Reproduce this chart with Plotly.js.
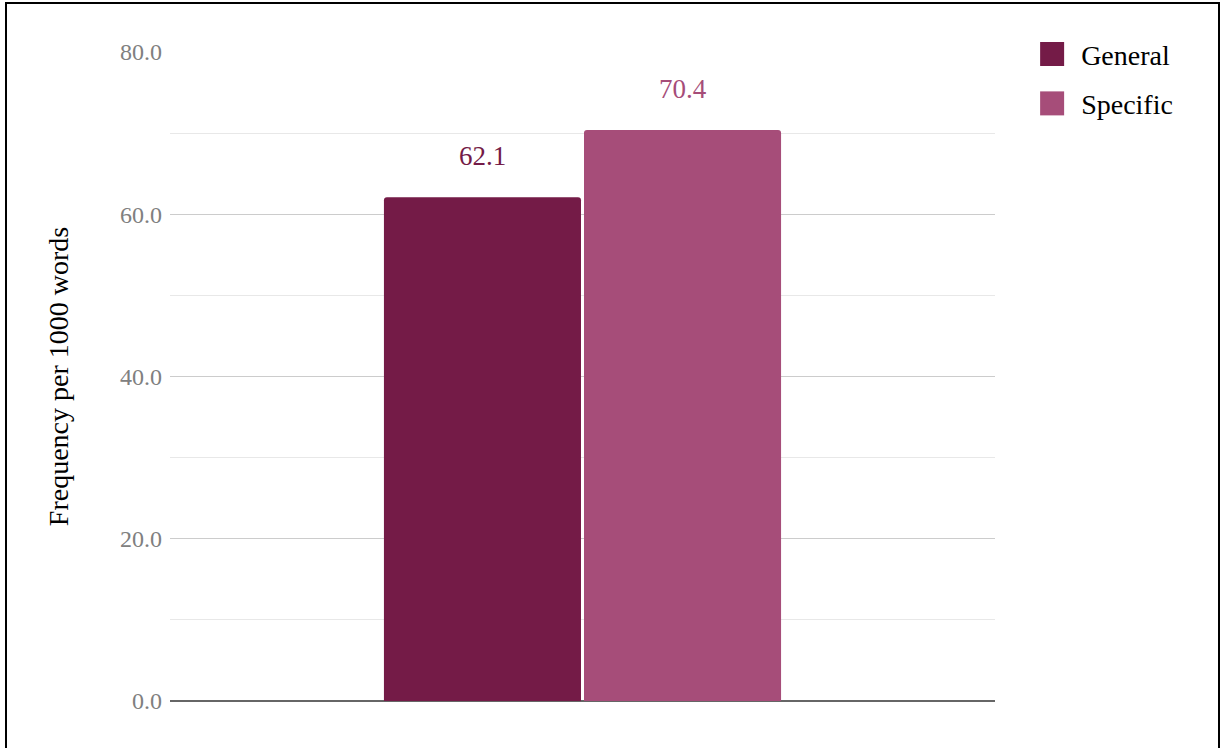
<!DOCTYPE html>
<html>
<head>
<meta charset="utf-8">
<script src="https://cdn.plot.ly/plotly-3.0.1.min.js"></script>
<style>
  html, body { margin: 0; padding: 0; background: #fff; overflow: hidden; }
  #chart { width: 1221px; height: 748px; }
  #frame { position: absolute; left: 5px; top: 2px; width: 1211px; height: 800px;
           border: 2px solid #000; border-bottom: none; pointer-events: none; }
</style>
</head>
<body>
<div id="chart"></div>
<div id="frame"></div>
<script>
// ---- data ----
const categories = ["Frequency"];
const seriesNames = ["General", "Specific"];
const generalValues = [62.1];
const specificValues = [70.4];
const yTickValues = [0, 20, 40, 60, 80];

const colors = ["#741B47", "#A64D79"];
const FONT = "'Liberation Serif', 'Times New Roman', serif";
const bargap = 0.515;
const allValues = [generalValues, specificValues];

const traces = allValues.map((vals, i) => ({
  type: "bar",
  name: seriesNames[i],
  x: categories,
  y: vals,
  legendgroup: "g" + i,
  marker: { color: colors[i], cornerradius: 3, line: { width: 0 } },
  hoverinfo: "none"
}));

// value labels above each bar
const nSeries = allValues.length;
const slot = (1 - bargap) / nSeries;
const annotations = [];
allValues.forEach((vals, i) => {
  vals.forEach((v, j) => {
    annotations.push({
      x: j - (1 - bargap) / 2 + slot * (i + 0.5),
      y: v,
      xref: "x", yref: "y",
      text: v.toFixed(1),
      showarrow: false,
      yanchor: "bottom",
      yshift: 24,
      font: { family: FONT, size: 27, color: colors[i] }
    });
  });
});

const layout = {
  width: 1221, height: 748,
  margin: { l: 170, r: 226, t: 52, b: 47 },
  paper_bgcolor: "#fff", plot_bgcolor: "#fff",
  barmode: "group",
  bargap: bargap,
  bargroupgap: 0.015,
  showlegend: true,
  legend: {
    x: 1.045, xanchor: "left", y: 1.035, yanchor: "top",
    font: { family: FONT, size: 28, color: "#000" },
    bgcolor: "rgba(0,0,0,0)",
    tracegroupgap: 10,
    itemwidth: 30
  },
  xaxis: {
    type: "category",
    showticklabels: false, showgrid: false, showline: false, zeroline: false, ticks: "",
    range: [-0.5, 0.5], fixedrange: true
  },
  yaxis: {
    range: [0, 80],
    tickvals: yTickValues,
    tickformat: ".1f",
    tickfont: { family: FONT, size: 24, color: "#808080" },
    ticks: "", ticklen: 0,
    ticklabelstandoff: 7,
    showgrid: true, gridcolor: "#cccccc", gridwidth: 1,
    minor: { dtick: 10, showgrid: true, gridcolor: "#e8e8e8", gridwidth: 1 },
    zeroline: true, zerolinecolor: "#666666", zerolinewidth: 2,
    showline: false,
    title: { text: "Frequency per 1000 words", font: { family: FONT, size: 28, color: "#000" }, standoff: 43 },
    automargin: false
  },
  annotations: annotations
};

Plotly.newPlot("chart", traces, layout, { displayModeBar: false, staticPlot: true }).then(gd => {
  // enlarge legend swatches and shift texts to match reference
  const leg = gd.querySelector(".legend");
  if (leg) {
    leg.removeAttribute("clip-path");
    leg.querySelectorAll("[clip-path]").forEach(el => el.removeAttribute("clip-path"));
  }
  gd.querySelectorAll(".legend .legendpoints path").forEach(p => {
    p.setAttribute("d", "M12,12H-12V-12H12Z");
  });
  gd.querySelectorAll(".legend .legendtext").forEach(t => {
    const x = parseFloat(t.getAttribute("x")) || 0;
    t.setAttribute("x", x + 9);
  });
});
</script>
</body>
</html>
